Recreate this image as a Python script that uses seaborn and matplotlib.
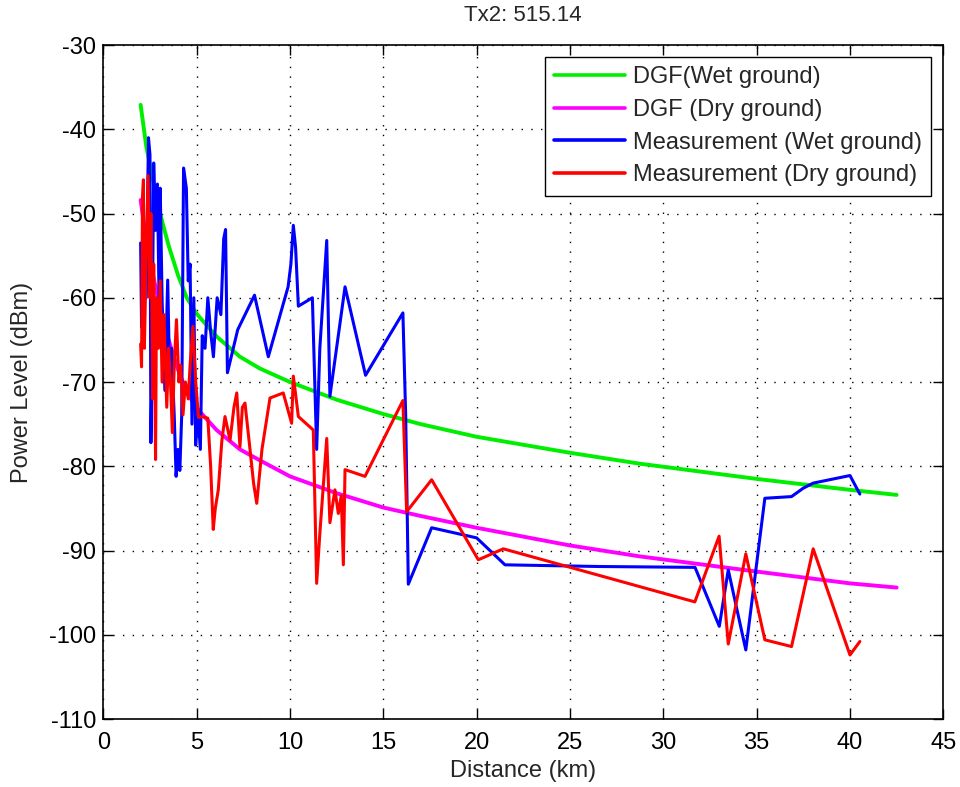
import matplotlib
matplotlib.use("Agg")
import matplotlib.pyplot as plt
import seaborn as sns
import pandas as pd

# ---------------- data ----------------
title = "Tx2: 515.14"
x_label = "Distance (km)"
y_label = "Power Level (dBm)"
series_names = ["DGF(Wet ground)", "DGF (Dry ground)",
                "Measurement (Wet ground)", "Measurement (Dry ground)"]

dist_dgf = [2.0, 2.3, 2.7, 3.04, 3.5, 4.0, 4.47, 5.0, 6.07, 7.32, 8.39, 10.0,
            12.5, 15.0, 17.0, 20.0, 25.0, 28.75, 35.0, 40.0, 42.5]
dgf_wet = [-37.1, -42.0, -46.5, -50.0, -53.8, -57.3, -60.0, -61.9, -64.6, -67.0,
           -68.4, -70.0, -72.1, -73.8, -75.0, -76.5, -78.4, -79.7, -81.5, -82.8, -83.4]
dgf_dry = [-48.4, -53.2, -57.7, -61.2, -65.0, -68.5, -71.2, -73.1, -75.7, -78.0,
           -79.3, -81.2, -83.2, -84.9, -85.9, -87.3, -89.4, -90.7, -92.5, -93.9, -94.4]

dist_wet = [2.00, 2.05, 2.15, 2.30, 2.42, 2.50, 2.55, 2.60, 2.70, 2.80, 2.90, 3.00,
            3.05, 3.15, 3.30, 3.45, 3.55, 3.65, 3.80, 3.90, 4.00, 4.10, 4.20, 4.30,
            4.45, 4.55, 4.65, 4.75, 4.85, 4.95, 5.05, 5.20, 5.30, 5.45, 5.60, 5.75,
            5.90, 6.10, 6.30, 6.45, 6.55, 6.65, 7.20, 8.10, 8.84, 9.90, 10.05, 10.18,
            10.30, 10.45, 11.20, 11.43, 11.60, 11.97, 12.14, 12.95, 14.05, 16.05,
            16.20, 16.34, 17.59, 20.00, 21.52, 26.60, 31.70, 33.00, 33.48, 34.42,
            35.44, 36.87, 37.50, 38.03, 40.00, 40.53]
meas_wet = [-53.5, -63.5, -55.0, -60.0, -41.0, -43.0, -77.2, -70.0, -44.0, -52.0,
            -46.5, -62.0, -47.0, -60.3, -71.0, -57.9, -69.0, -66.0, -74.0, -81.2,
            -78.0, -80.5, -74.0, -44.6, -47.0, -58.0, -56.0, -75.0, -60.0, -77.5,
            -73.0, -78.0, -64.5, -66.0, -60.0, -64.0, -67.0, -60.0, -62.0, -53.0,
            -51.9, -68.9, -63.8, -59.7, -67.0, -58.7, -56.0, -51.4, -54.0, -61.0,
            -60.0, -78.0, -66.0, -53.2, -71.7, -58.7, -69.2, -61.8, -74.0, -94.0,
            -87.3, -88.5, -91.7, -91.9, -92.0, -99.0, -92.3, -101.8, -83.8, -83.6,
            -82.6, -82.0, -81.1, -83.3]

dist_dry = [2.00, 2.05, 2.10, 2.15, 2.20, 2.30, 2.40, 2.50, 2.55, 2.65, 2.70, 2.80,
            2.85, 2.95, 3.05, 3.15, 3.25, 3.40, 3.50, 3.60, 3.70, 3.80, 3.92, 4.05,
            4.15, 4.27, 4.40, 4.55, 4.65, 4.80, 4.95, 5.10, 5.30, 5.60, 5.75, 5.89,
            6.00, 6.16, 6.35, 6.52, 6.79, 7.00, 7.15, 7.32, 7.45, 7.59, 7.86, 8.05,
            8.22, 8.50, 8.93, 9.64, 10.09, 10.18, 10.45, 11.25, 11.43, 11.60, 11.97,
            12.14, 12.41, 12.59, 12.75, 12.86, 12.95, 14.02, 16.05, 16.25, 17.59,
            20.09, 21.43, 31.69, 32.99, 33.48, 34.42, 35.44, 36.87, 38.03, 40.00, 40.53]
meas_dry = [-65.5, -68.2, -48.0, -46.0, -66.0, -55.0, -45.5, -60.0, -50.0, -72.0,
            -56.0, -79.2, -60.0, -66.0, -58.0, -70.0, -62.0, -73.0, -66.0, -70.0,
            -76.0, -68.0, -62.6, -70.0, -68.0, -73.9, -70.0, -72.0, -68.0, -63.4,
            -70.0, -74.2, -74.1, -74.3, -80.0, -87.5, -85.0, -82.8, -77.0, -74.1,
            -76.9, -73.0, -71.3, -77.7, -73.0, -72.5, -78.0, -82.0, -84.4, -78.0,
            -71.9, -71.3, -74.9, -69.3, -74.1, -75.7, -93.9, -88.0, -76.7, -86.7,
            -82.8, -85.6, -83.5, -91.7, -80.4, -81.2, -72.2, -85.4, -81.6, -91.1,
            -89.8, -96.1, -88.3, -101.1, -90.4, -100.6, -101.4, -89.8, -102.4, -100.8]

x_ticks = [0, 5, 10, 15, 20, 25, 30, 35, 40, 45]
y_ticks = [-110, -100, -90, -80, -70, -60, -50, -40, -30]

# ---------------- plotting ----------------
sns.set_style("white")
plt.rcParams['font.family'] = ['Liberation Sans', 'DejaVu Sans']

fig = plt.figure(figsize=(9.6, 7.87), dpi=100)
ax = fig.add_axes([0.1076, 0.0864, 0.875, 0.8564])

df_g = pd.DataFrame({"d": dist_dgf, "p": dgf_wet})
df_m = pd.DataFrame({"d": dist_dgf, "p": dgf_dry})
df_w = pd.DataFrame({"d": dist_wet, "p": meas_wet})
df_r = pd.DataFrame({"d": dist_dry, "p": meas_dry})

sns.lineplot(data=df_g, x="d", y="p", ax=ax, color="#00ee00", lw=2.8,
             sort=False, estimator=None, label=series_names[0], zorder=3)
sns.lineplot(data=df_m, x="d", y="p", ax=ax, color="#ff00ff", lw=2.8,
             sort=False, estimator=None, label=series_names[1], zorder=3)
sns.lineplot(data=df_w, x="d", y="p", ax=ax, color="#0000ff", lw=2.2,
             sort=False, estimator=None, label=series_names[2], zorder=4)
sns.lineplot(data=df_r, x="d", y="p", ax=ax, color="#ff0000", lw=2.2,
             sort=False, estimator=None, label=series_names[3], zorder=5)

ax.set_xlim(0, 45)
ax.set_ylim(-110, -30)
ax.set_xticks(x_ticks)
ax.set_yticks(y_ticks)
ax.set_xticklabels([str(v) for v in x_ticks], fontsize=17)
ax.set_yticklabels([str(v) for v in y_ticks], fontsize=17)
ax.set_xlabel(x_label, fontsize=17, labelpad=5)
ax.set_ylabel(y_label, fontsize=17, labelpad=12)
ax.set_title(title, fontsize=16, pad=17)

ax.grid(True, color="black", linestyle=(0, (1, 6)), linewidth=1.0)
ax.tick_params(direction="in", length=7, width=1, top=True, right=True,
               bottom=True, left=True, colors="black")
ax.tick_params(axis="x", pad=9)
ax.tick_params(axis="y", pad=5)
for s in ax.spines.values():
    s.set_visible(True)
    s.set_color("black")
    s.set_linewidth(1.2)

leg = ax.legend(loc="upper right", fontsize=17, frameon=True, fancybox=False,
                edgecolor="black", borderpad=0.4, labelspacing=0.45,
                handlelength=3.0, handletextpad=0.35, borderaxespad=0.5)
leg.get_frame().set_linewidth(1.0)
leg.get_frame().set_alpha(1.0)
for line in leg.get_lines():
    line.set_linewidth(2.6)

fig.savefig("out.png", dpi=100, facecolor="white")
